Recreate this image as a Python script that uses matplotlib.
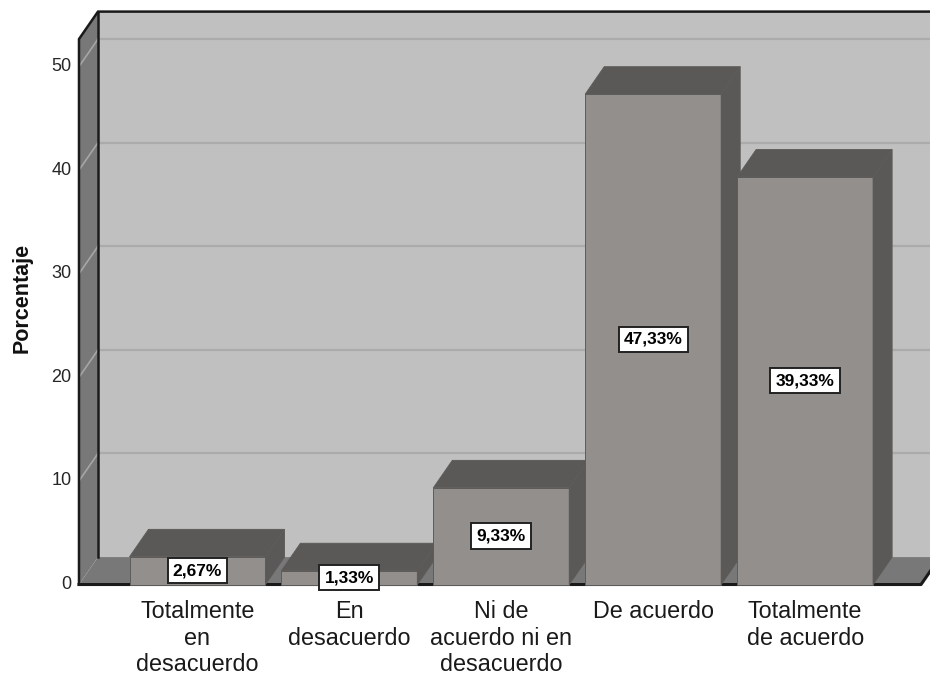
import matplotlib
matplotlib.use('Agg')
import matplotlib.pyplot as plt
from matplotlib.patches import Polygon

categorias = ['Totalmente\nen\ndesacuerdo', 'En\ndesacuerdo', 'Ni de\nacuerdo ni en\ndesacuerdo',
              'De acuerdo', 'Totalmente\nde acuerdo']
porcentajes = [2.67, 1.33, 9.33, 47.33, 39.33]
etiquetas = ['2,67%', '1,33%', '9,33%', '47,33%', '39,33%']
yticks = [0, 10, 20, 30, 40, 50]

# estilo del grafico 3D (tipo SPSS)
ancho = 0.895      # ancho de barra en unidades de categoria
dx, dy = 0.125, 2.65  # desplazamiento de profundidad
ytop = 52.65
x_izq = -0.78
x_der = 4.763

c_frente = '#938f8d'
c_lado = '#5b5957'
c_pared = '#c0c0c0'
c_lateral = '#787878'

fig = plt.figure(figsize=(9.3, 6.76), dpi=100)
ax = fig.add_axes([0, 0, 1, 1])
ax.set_xlim(-1.30, 4.822)
ax.set_ylim(-8.83, 56.42)
ax.axis('off')

# pared del fondo
ax.add_patch(Polygon([(x_izq + dx, dy), (x_der + dx + 0.2, dy), (x_der + dx + 0.2, ytop + dy),
                      (x_izq + dx, ytop + dy)], closed=True, fc=c_pared, ec='none', zorder=1))
# pared lateral
ax.add_patch(Polygon([(x_izq, 0), (x_izq + dx, dy), (x_izq + dx, ytop + dy), (x_izq, ytop)],
                     closed=True, fc=c_lateral, ec='none', zorder=1))
# suelo
ax.add_patch(Polygon([(x_izq, 0), (x_der, 0), (x_der + dx, dy), (x_izq + dx, dy)],
                     closed=True, fc=c_lateral, ec='none', zorder=1))

# lineas de cuadricula
for t in yticks[1:]:
    ax.plot([x_izq + dx, x_der + dx + 0.2], [t + dy, t + dy], color='#ababab', lw=1.6, zorder=2)
    ax.plot([x_izq, x_izq + dx], [t, t + dy], color='#a6a6a6', lw=1.2, zorder=2)

# bordes negros
ax.plot([x_izq, x_izq, x_izq + dx, x_der + dx + 0.3], [0, ytop, ytop + dy, ytop + dy],
        color='#1a1a1a', lw=1.8, zorder=3, solid_joinstyle='miter')
ax.plot([x_izq + dx, x_izq + dx], [dy, ytop + dy], color='#1a1a1a', lw=1.8, zorder=3)
ax.plot([x_izq, x_der, x_der + dx], [0, 0, dy], color='#1a1a1a', lw=2.2, zorder=3)

# barras
for i, v in enumerate(porcentajes):
    x0 = i - ancho / 2
    x1 = i + ancho / 2
    z = 4 + i
    ax.add_patch(Polygon([(x0, 0), (x1, 0), (x1, v), (x0, v)], closed=True,
                         fc=c_frente, ec='#5e5c5a', lw=0.7, zorder=z))
    ax.add_patch(Polygon([(x0, v), (x1, v), (x1 + dx, v + dy), (x0 + dx, v + dy)], closed=True,
                         fc=c_lado, ec='#5e5c5a', lw=0.7, zorder=z))
    ax.add_patch(Polygon([(x1, 0), (x1 + dx, dy), (x1 + dx, v + dy), (x1, v)], closed=True,
                         fc=c_lado, ec='#5e5c5a', lw=0.7, zorder=z))
    ax.text(i, v / 2, etiquetas[i], ha='center', va='center', fontsize=12.5, fontweight='bold',
            family='Liberation Sans', zorder=20,
            bbox=dict(boxstyle='square,pad=0.3', fc='white', ec='#222222', lw=1.4))

# etiquetas de ejes
for t in yticks:
    ax.text(-0.83, t, str(t), ha='right', va='center', fontsize=13,
            family='Liberation Sans', color='#262626')

for i, c in enumerate(categorias):
    ax.text(i, -1.45, c, ha='center', va='top', fontsize=16.8, family='Liberation Sans',
            color='#1a1a1a', linespacing=1.22)

ax.text(-1.155, 27.7, 'Porcentaje', rotation=90, ha='center', va='center', fontsize=15.5,
        fontweight='bold', family='Liberation Sans', color='#111111')

fig.savefig('out.png', dpi=100)
